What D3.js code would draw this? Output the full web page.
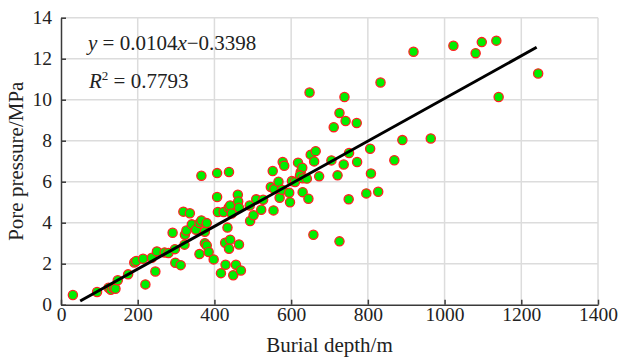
<!DOCTYPE html>
<html>
<head>
<meta charset="utf-8">
<script src="https://cdn.jsdelivr.net/npm/d3@7"></script>
<style>
  html, body { margin: 0; padding: 0; background: #fff; }
  svg { display: block; }
  text { font-family: "Liberation Serif", "Times New Roman", serif; fill: #222; }
</style>
</head>
<body>
<svg id="chart" width="620" height="359"></svg>
<script>
// ---- data ----
const depth = [
  31, 94, 124, 130, 136, 142, 148, 175, 220, 191, 196, 214, 237, 246, 250, 270, 280, 297, 298, 312,
  291, 323, 327, 319, 336, 322, 341, 352, 361, 366, 375, 380, 366, 407, 438, 407, 375, 380, 361, 385,
  398, 409, 424, 434, 428, 441, 438, 464, 417, 429, 449, 456, 469, 437, 441, 461, 462, 464, 445, 492,
  493, 502, 509, 522, 527, 547, 552, 554, 556, 567, 570, 578, 582, 576, 595, 597, 602, 610, 618, 625,
  629, 623, 630, 641, 630, 645, 651, 664, 660, 673, 705, 711, 726, 742, 771, 721, 737, 751, 772, 750,
  658, 726, 919, 1023, 833, 739, 890, 964, 806, 869, 808, 796, 827, 1081, 1097, 1135, 1244, 1141, 648
];
const pressure = [
  0.47, 0.62, 0.83, 0.73, 0.83, 0.78, 1.19, 1.48, 0.99, 2.06, 2.13, 2.24, 2.29, 1.62, 2.60, 2.55, 2.52, 2.71, 2.05, 1.93,
  3.51, 3.41, 3.62, 4.54, 4.46, 2.93, 3.92, 3.66, 3.98, 4.11, 3.56, 3.98, 6.29, 6.42, 6.47, 5.25, 3.00, 2.89, 2.47, 2.57,
  2.21, 4.52, 4.52, 3.76, 3.02, 3.17, 2.73, 2.94, 1.54, 1.95, 1.44, 1.95, 1.67, 4.73, 4.84, 5.36, 5.04, 4.73, 4.45, 4.84,
  4.08, 4.36, 5.14, 4.63, 5.12, 5.74, 6.52, 4.60, 5.64, 6.00, 5.22, 6.96, 6.78, 5.61, 5.46, 5.00, 6.03, 5.98, 6.93, 6.47,
  6.68, 6.31, 6.17, 6.15, 5.49, 5.17, 7.32, 7.49, 6.99, 6.26, 7.04, 8.66, 9.35, 8.96, 8.86, 6.31, 6.84, 7.40, 6.96, 5.14,
  3.41, 3.09, 12.34, 12.63, 10.84, 10.13, 8.03, 8.11, 7.61, 7.05, 6.40, 5.43, 5.51, 12.27, 12.81, 12.88, 11.28, 10.13, 10.35
];
const fitSlope = 0.0104;
const fitIntercept = -0.3398;
const fitRange = [50, 1240];
const xTicks = [0, 200, 400, 600, 800, 1000, 1200, 1400];
const yTicks = [0, 2, 4, 6, 8, 10, 12, 14];
const xTitle = "Burial depth/m";
const yTitle = "Pore pressure/MPa";

// ---- layout ----
const svg = d3.select("#chart");
const L = 61, R = 598, T = 17.7, B = 304.7;
const x = d3.scaleLinear().domain([0, 1400]).range([L, R]);
const y = d3.scaleLinear().domain([0, 14]).range([B, T]);

// grid
const grid = svg.append("g").attr("stroke", "#dcdcdc").attr("stroke-width", 1.5);
grid.selectAll("line.v").data(xTicks.filter(d => d > 0)).join("line")
  .attr("x1", d => x(d)).attr("x2", d => x(d)).attr("y1", T).attr("y2", B);
grid.selectAll("line.h").data(yTicks.filter(d => d > 0)).join("line")
  .attr("x1", L).attr("x2", R).attr("y1", d => y(d)).attr("y2", d => y(d));

// points
const pts = depth.map((d, i) => ({ d, p: pressure[i] }));
svg.append("g").selectAll("circle").data(pts).join("circle")
  .attr("cx", d => x(d.d)).attr("cy", d => y(d.p)).attr("r", 4.6)
  .attr("fill", "#00ee00").attr("stroke", "#ff2020").attr("stroke-width", 1.3);

// fit line
svg.append("line")
  .attr("x1", x(fitRange[0])).attr("y1", y(fitSlope * fitRange[0] + fitIntercept))
  .attr("x2", x(fitRange[1])).attr("y2", y(fitSlope * fitRange[1] + fitIntercept))
  .attr("stroke", "#000").attr("stroke-width", 3);

// axes
const xAxis = d3.axisBottom(x).tickValues(xTicks).tickFormat(d3.format("d"))
  .tickSizeInner(-5).tickSizeOuter(0).tickPadding(2.5);
const gx = svg.append("g").attr("transform", `translate(0,${B})`).call(xAxis);
const yAxis = d3.axisLeft(y).tickValues(yTicks).tickFormat(d3.format("d"))
  .tickSizeInner(-5).tickSizeOuter(0).tickPadding(9);
const gy = svg.append("g").attr("transform", `translate(${L},0)`).call(yAxis);
[gx, gy].forEach(g => {
  g.select(".domain").attr("stroke", "#3a3a3a").attr("stroke-width", 1.5);
  g.selectAll(".tick line").attr("stroke", "#3a3a3a").attr("stroke-width", 1.5);
  g.selectAll(".tick text").attr("font-family", "Liberation Serif").attr("font-size", 19.5).attr("fill", "#222");
});

// titles
svg.append("text").attr("x", (L + R) / 2).attr("y", 352).attr("text-anchor", "middle")
  .attr("font-size", 21).text(xTitle);
svg.append("text").attr("transform", `translate(23,${(T + B) / 2}) rotate(-90)`)
  .attr("text-anchor", "middle").attr("font-size", 21).text(yTitle);

// equation
const eq = svg.append("text").attr("x", 88).attr("y", 50).attr("font-size", 21);
eq.append("tspan").attr("font-style", "italic").text("y");
eq.append("tspan").text(" = 0.0104");
eq.append("tspan").attr("font-style", "italic").text("x");
eq.append("tspan").text("\u22120.3398");
const r2 = svg.append("text").attr("x", 89).attr("y", 88).attr("font-size", 21);
r2.append("tspan").attr("font-style", "italic").text("R");
r2.append("tspan").attr("font-size", 13).attr("dy", -8).text("2");
r2.append("tspan").attr("dy", 8).text(" = 0.7793");
</script>
</body>
</html>
